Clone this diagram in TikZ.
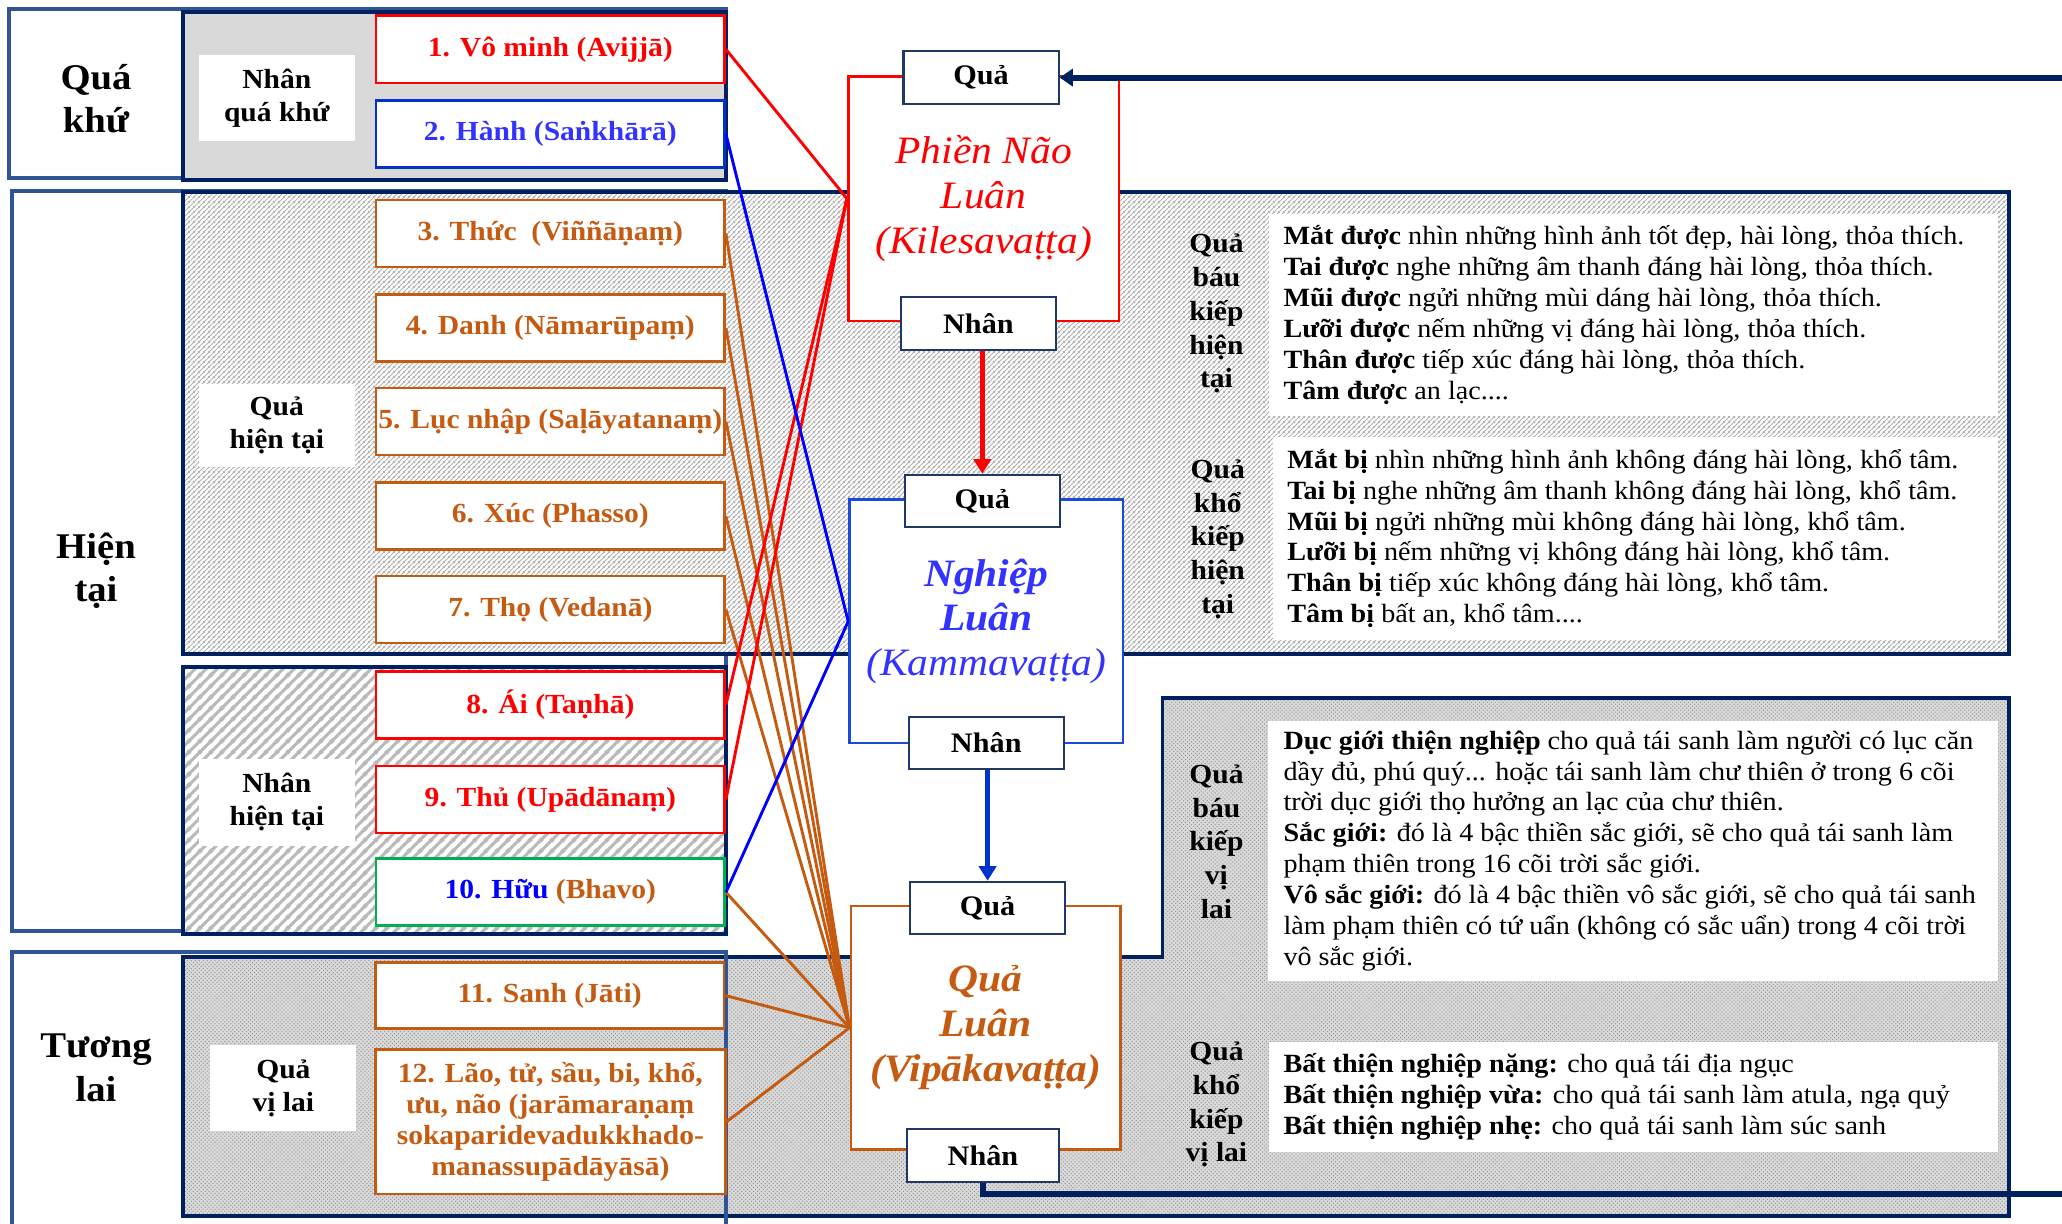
\documentclass[tikz,border=0pt]{standalone}
\usepackage{fontspec}
\setmainfont{Liberation Serif}[FakeStretch=1.07]
\usetikzlibrary{patterns,arrows.meta}
\definecolor{navy}{HTML}{002060}
\definecolor{midblue}{HTML}{2F5597}
\definecolor{boxnavy}{HTML}{203864}
\definecolor{orng}{HTML}{C55A11}
\definecolor{rd}{HTML}{FF0000}
\definecolor{bl}{HTML}{0000FF}
\definecolor{lblue}{HTML}{3333FF}
\definecolor{grn}{HTML}{00B050}
\definecolor{arrblue}{HTML}{0033CC}
\definecolor{nlblue}{HTML}{1A4AD8}
\pgfdeclarepatternformonly{bigstripes}{\pgfqpoint{0pt}{0pt}}{\pgfqpoint{8pt}{8pt}}{\pgfqpoint{8pt}{8pt}}{%
  \pgfsetlinewidth{2.3pt}%
  \pgfpathmoveto{\pgfqpoint{-1pt}{-1pt}}\pgfpathlineto{\pgfqpoint{9pt}{9pt}}%
  \pgfpathmoveto{\pgfqpoint{-2pt}{6pt}}\pgfpathlineto{\pgfqpoint{2pt}{10pt}}%
  \pgfpathmoveto{\pgfqpoint{6pt}{-2pt}}\pgfpathlineto{\pgfqpoint{10pt}{2pt}}%
  \pgfusepath{stroke}}
\pgfdeclarepatternformonly{finehatch}{\pgfqpoint{0pt}{0pt}}{\pgfqpoint{3.5pt}{3.5pt}}{\pgfqpoint{3.5pt}{3.5pt}}{%
  \pgfsetlinewidth{0.6pt}%
  \pgfpathmoveto{\pgfqpoint{-1pt}{-1pt}}\pgfpathlineto{\pgfqpoint{4.5pt}{4.5pt}}%
  \pgfpathmoveto{\pgfqpoint{-1pt}{2.5pt}}\pgfpathlineto{\pgfqpoint{1pt}{4.5pt}}%
  \pgfpathmoveto{\pgfqpoint{2.5pt}{-1pt}}\pgfpathlineto{\pgfqpoint{4.5pt}{1pt}}%
  \pgfusepath{stroke}}
\begin{document}
\begin{tikzpicture}[x=1pt,y=-1pt,
  periodbox/.style={draw=midblue, line width=3pt},
  periodlbl/.style={font=\fontsize{27.5}{33}\selectfont\bfseries, align=center},
  whitelbl/.style={fill=white, inner sep=0pt, font=\fontsize{21}{25}\selectfont\bfseries, align=center, minimum width=119pt},
  itembox/.style={draw, fill=white, line width=2pt, minimum width=265pt, minimum height=51pt, inner sep=0pt, font=\fontsize{21}{23.5}\selectfont\bfseries, align=center},
  smallbox/.style={draw=boxnavy, fill=white, line width=1.6pt, minimum width=118pt, minimum height=40pt, inner sep=0pt, font=\fontsize{21.5}{24}\selectfont\bfseries},
  bigbox/.style={fill=white, line width=2pt, inner sep=0pt, align=center, font=\fontsize{29.5}{34}\selectfont\itshape},
  sidelbl/.style={font=\fontsize{21}{25.7}\selectfont\bfseries, align=center},
  txtbox/.style={fill=white, inner sep=0pt},
  txt/.style={font=\fontsize{20}{23.5}\selectfont, align=left, inner sep=0pt, anchor=west},
  con/.style={line width=2.2pt},
  fb/.style={draw=navy, line width=4.5pt}
]
\useasboundingbox (0,0) rectangle (1568,930);
\clip (0,0) rectangle (1568,930);
% period boxes
\path[periodbox, fill=white] (7,7) rectangle (552,135);
\path[periodbox, fill=white] (9,145) rectangle (552,708);
\path[periodbox, fill=white] (9,724) rectangle (552,945);
% group regions
\path[draw=navy, line width=3pt, fill=gray!30] (139,9) rectangle (552,137);
\path[draw=navy, line width=3pt, preaction={fill=white}, pattern=finehatch, pattern color=gray!60] (139,146) rectangle (1528,497);
\path[draw=navy, line width=3pt, preaction={fill=white}, pattern=bigstripes, pattern color=gray!55] (139,507) rectangle (552,710);
\path[draw=navy, line width=3pt, preaction={fill=gray!30}, pattern=crosshatch dots, pattern color=gray!85]
  (139,728) -- (884,728) -- (884,531) -- (1528,531) -- (1528,925) -- (139,925) -- cycle;
\draw[periodbox] (9,724) rectangle (552,945);
% period labels
\node[periodlbl] (pqk) at (73,75) {Quá\\khứ};
\node[periodlbl] (pht) at (73,434) {Hiện\\tại};
\node[periodlbl] (ptl) at (73,812) {Tương\\lai};
% white labels
\node[whitelbl, minimum height=65pt] (lnqk) at (210.5,74.5) {Nhân\\quá khứ};
\node[whitelbl, minimum height=63pt] (lqht) at (210.5,323.5) {Quả\\hiện tại};
\node[whitelbl, minimum height=66pt] (lnht) at (210.5,610) {Nhân\\hiện tại};
\node[whitelbl, minimum height=65pt, minimum width=111pt] (lqvl) at (215.5,827.5) {Quả\\vị lai};
% items
\node[itembox, draw=rd, text=rd] (n1) at (418.5,37.5) {1. Vô minh (Avijjā)};
\node[itembox, draw=arrblue, text=lblue] (n2) at (418.5,102) {2. Hành (Saṅkhārā)};
\node[itembox, draw=orng, text=orng] (n3) at (418.5,177.5) {3. Thức\ \ (Viññāṇaṃ)};
\node[itembox, draw=orng, text=orng] (n4) at (418.5,249.5) {4. Danh (Nāmarūpaṃ)};
\node[itembox, draw=orng, text=orng] (n5) at (418.5,320.5) {5. Lục nhập (Saḷāyatanaṃ)};
\node[itembox, draw=orng, text=orng] (n6) at (418.5,392.5) {6. Xúc (Phasso)};
\node[itembox, draw=orng, text=orng] (n7) at (418.5,463.5) {7. Thọ (Vedanā)};
\node[itembox, draw=rd, text=rd] (n8) at (418.5,536) {8. Ái (Taṇhā)};
\node[itembox, draw=rd, text=rd] (n9) at (418.5,608) {9. Thủ (Upādānaṃ)};
\node[itembox, draw=grn, text=orng] (n10) at (418.5,678.5) {\textcolor{bl}{10. Hữu} (Bhavo)};
\node[itembox, draw=orng, text=orng, minimum height=50pt] (n11) at (418,757) {11. Sanh (Jāti)};
\node[itembox, draw=orng, text=orng, minimum height=110pt, minimum width=266pt] (n12) at (418.5,853) {12. Lão, tử, sầu, bi, khổ,\\ưu, não (jarāmaraṇaṃ\\sokaparidevadukkhado-\\manassupādāyāsā)};
% center boxes
\node[bigbox, draw=rd, text=rd, minimum width=206pt, minimum height=186pt] (pn) at (748,151) {Phiền Não\\Luân\\(Kilesavaṭṭa)};
\node[bigbox, draw=nlblue, text=lblue, minimum width=208pt, minimum height=185pt] (nl) at (750,472.5) {\textbf{Nghiệp}\\\textbf{Luân}\\(Kammavaṭṭa)};
\node[bigbox, draw=orng, text=orng, minimum width=205pt, minimum height=185pt, font=\fontsize{29.5}{34}\selectfont\itshape\bfseries] (ql) at (749.5,781.5) {Quả\\Luân\\(Vipākavaṭṭa)};
\node[smallbox] (qa1) at (746,59) {Quả};
\node[smallbox] (nh1) at (744,246) {Nhân};
\node[smallbox] (qa2) at (747,381) {Quả};
\node[smallbox] (nh2) at (750,565) {Nhân};
\node[smallbox] (qa3) at (751,690.5) {Quả};
\node[smallbox, minimum width=115pt] (nh3) at (747.5,878.5) {Nhân};
% connectors
\foreach \n in {n3,n4,n5,n6,n7,n10,n11,n12} \draw[con, orng] (\n.east) -- (ql.west);
\foreach \n in {n1,n8,n9} \draw[con, rd] (\n.east) -- (pn.west);
\foreach \n in {n2,n10} \draw[con, bl] (\n.east) -- (nl.west);
% arrows
\draw[rd, line width=4pt, -{Triangle[length=11pt,width=13pt]}] (qa2.north |- nh1.south) -- (qa2.north);
\draw[arrblue, line width=4pt, -{Triangle[length=11pt,width=13pt]}] (qa3.north |- nh2.south) -- (qa3.north);
\coordinate (fbbot) at (1568,908);
\coordinate (fbtop) at (1568,59);
\draw[fb] (nh3.south) -- (nh3.south |- fbbot) -- (fbbot);
\draw[fb, -{Triangle[length=10pt,width=13pt]}] (fbtop) -- (qa1.east);
% side labels
\node[sidelbl] (s1) at (925,238.5) {Quả\\báu\\kiếp\\hiện\\tại};
\node[sidelbl] (s2) at (926,410) {Quả\\khổ\\kiếp\\hiện\\tại};
\node[sidelbl] (s3) at (925,640) {Quả\\báu\\kiếp\\vị\\lai};
\node[sidelbl] (s4) at (925,840) {Quả\\khổ\\kiếp\\vị lai};
% text boxes
\node[txtbox, minimum width=554pt, minimum height=153pt] (b1) at (1242,239.5) {};
\node[txt] (t1) at ([xshift=11pt]b1.west) {\textbf{Mắt được} nhìn những hình ảnh tốt đẹp, hài lòng, thỏa thích.\\\textbf{Tai được} nghe những âm thanh đáng hài lòng, thỏa thích.\\\textbf{Mũi được} ngửi những mùi dáng hài lòng, thỏa thích.\\\textbf{Lưỡi được} nếm những vị đáng hài lòng, thỏa thích.\\\textbf{Thân được} tiếp xúc đáng hài lòng, thỏa thích.\\\textbf{Tâm được} an lạc....};
\node[txtbox, minimum width=551pt, minimum height=155pt] (b2) at (1243.5,409.5) {};
\node[txt] (t2) at ([xshift=11pt]b2.west) {\textbf{Mắt bị} nhìn những hình ảnh không đáng hài lòng, khổ tâm.\\\textbf{Tai bị} nghe những âm thanh không đáng hài lòng, khổ tâm.\\\textbf{Mũi bị} ngửi những mùi không đáng hài lòng, khổ tâm.\\\textbf{Lưỡi bị} nếm những vị không đáng hài lòng, khổ tâm.\\\textbf{Thân bị} tiếp xúc không đáng hài lòng, khổ tâm.\\\textbf{Tâm bị} bất an, khổ tâm....};
\node[txtbox, minimum width=555pt, minimum height=198pt] (b3) at (1241.5,647) {};
\node[txt] (t3) at ([xshift=12pt]b3.west) {\textbf{Dục giới thiện nghiệp} cho quả tái sanh làm người có lục căn\\dầy đủ, phú quý... hoặc tái sanh làm chư thiên ở trong 6 cõi\\trời dục giới thọ hưởng an lạc của chư thiên.\\\textbf{Sắc giới:} đó là 4 bậc thiền sắc giới, sẽ cho quả tái sanh làm\\phạm thiên trong 16 cõi trời sắc giới.\\\textbf{Vô sắc giới:} đó là 4 bậc thiền vô sắc giới, sẽ cho quả tái sanh\\làm phạm thiên có tứ uẩn (không có sắc uẩn) trong 4 cõi trời\\vô sắc giới.};
\node[txtbox, minimum width=554pt, minimum height=84pt] (b4) at (1242,834) {};
\node[txt] (t4) at ([xshift=11pt]b4.west) {\textbf{Bất thiện nghiệp nặng:} cho quả tái địa ngục\\\textbf{Bất thiện nghiệp vừa:} cho quả tái sanh làm atula, ngạ quỷ\\\textbf{Bất thiện nghiệp nhẹ:} cho quả tái sanh làm súc sanh};
\end{tikzpicture}
\end{document}
